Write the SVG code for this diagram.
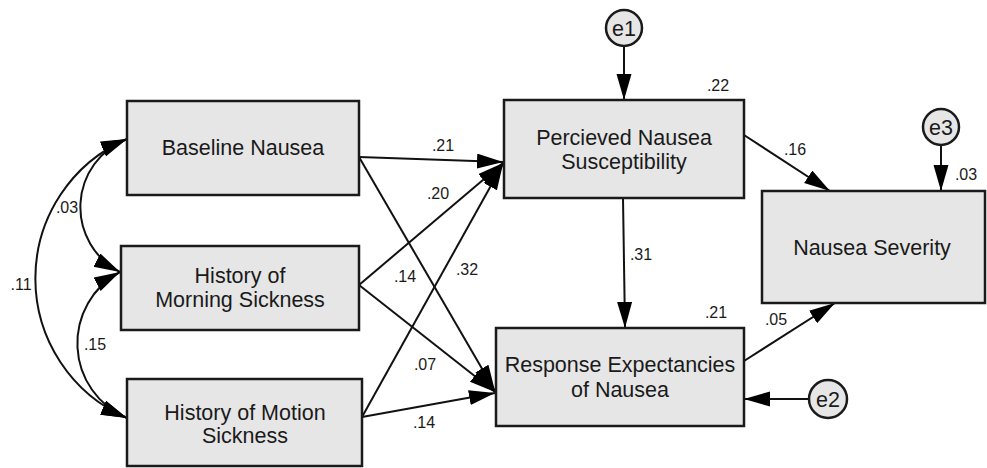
<svg xmlns="http://www.w3.org/2000/svg" width="987" height="468" viewBox="0 0 987 468">
<defs>
<style>
.box{fill:#e6e6e6;stroke:#1a1a1a;stroke-width:2.5}
.err{fill:#e6e6e6;stroke:#1a1a1a;stroke-width:2.5}
.lbl{font-family:"Liberation Sans",Arial,sans-serif;font-size:21.5px;fill:#1a1a1a;text-anchor:middle}
.coef{font-family:"Liberation Sans",Arial,sans-serif;font-size:16px;fill:#1a1a1a;text-anchor:middle}
.arr{fill:none;stroke:#111;stroke-width:2;marker-end:url(#ah)}
.cov{fill:none;stroke:#111;stroke-width:2;marker-end:url(#ah);marker-start:url(#ah)}
</style>
<marker id="ah" markerUnits="userSpaceOnUse" markerWidth="27" markerHeight="16" refX="26" refY="7.5" orient="auto-start-reverse">
<path d="M0,0 L26,7.5 L0,15 Z" fill="#000"/>
</marker>
</defs>
<rect width="987" height="468" fill="#fff"/>

<g id="connectors">
<path class="cov" d="M127,139 A152,152 0 0 0 127,418"/>
<path class="cov" d="M127,139 A73,73 0 0 0 120,272"/>
<path class="cov" d="M120,272 A81,81 0 0 0 127,418"/>
<line class="arr" x1="359" y1="157" x2="503" y2="162"/>
<line class="arr" x1="359" y1="285" x2="503" y2="163"/>
<line class="arr" x1="362" y1="417" x2="503" y2="164"/>
<line class="arr" x1="359" y1="157" x2="495" y2="391"/>
<line class="arr" x1="359" y1="285" x2="495" y2="392"/>
<line class="arr" x1="362" y1="417" x2="495" y2="393"/>
<line class="arr" x1="624" y1="46" x2="624" y2="100"/>
<line class="arr" x1="623" y1="198" x2="625" y2="328"/>
<line class="arr" x1="744" y1="135" x2="830" y2="191"/>
<line class="arr" x1="744" y1="361" x2="835" y2="303"/>
<line class="arr" x1="809" y1="399" x2="744" y2="399"/>
<line class="arr" x1="941" y1="145" x2="941" y2="191"/>
</g>

<g id="baseline">
<rect class="box" x="127" y="101" width="232" height="94"/>
<text class="lbl" x="243" y="155">Baseline Nausea</text>
</g>
<g id="morning">
<rect class="box" x="121" y="246" width="238" height="84"/>
<text class="lbl" x="240" y="283">History of</text>
<text class="lbl" x="240" y="307">Morning Sickness</text>
</g>
<g id="motion">
<rect class="box" x="127" y="379" width="235" height="87"/>
<text class="lbl" x="245" y="420">History of Motion</text>
<text class="lbl" x="245" y="443">Sickness</text>
</g>
<g id="perceived">
<rect class="box" x="504" y="100" width="240" height="98"/>
<text class="lbl" x="624" y="145">Percieved Nausea</text>
<text class="lbl" x="624" y="169">Susceptibility</text>
</g>
<g id="response">
<rect class="box" x="496" y="328" width="248" height="98"/>
<text class="lbl" x="620" y="372">Response Expectancies</text>
<text class="lbl" x="620" y="397">of Nausea</text>
</g>
<g id="severity">
<rect class="box" x="762" y="191" width="223" height="112"/>
<text class="lbl" x="872" y="255">Nausea Severity</text>
</g>
<g id="e1">
<circle class="err" cx="624" cy="28" r="18"/>
<text class="lbl" x="624" y="36">e1</text>
</g>
<g id="e2">
<circle class="err" cx="828" cy="399" r="19"/>
<text class="lbl" x="828" y="407">e2</text>
</g>
<g id="e3">
<circle class="err" cx="941" cy="127" r="18"/>
<text class="lbl" x="941" y="135">e3</text>
</g>

<g id="coefficients">
<text class="coef" x="67" y="213">.03</text>
<text class="coef" x="21" y="290">.11</text>
<text class="coef" x="95" y="350">.15</text>
<text class="coef" x="443" y="151">.21</text>
<text class="coef" x="438" y="199">.20</text>
<text class="coef" x="405" y="282">.14</text>
<text class="coef" x="467" y="275">.32</text>
<text class="coef" x="425" y="370">.07</text>
<text class="coef" x="424" y="428">.14</text>
<text class="coef" x="718" y="91">.22</text>
<text class="coef" x="641" y="260">.31</text>
<text class="coef" x="716" y="318">.21</text>
<text class="coef" x="776" y="325">.05</text>
<text class="coef" x="795" y="155">.16</text>
<text class="coef" x="966" y="180">.03</text>
</g>
</svg>
